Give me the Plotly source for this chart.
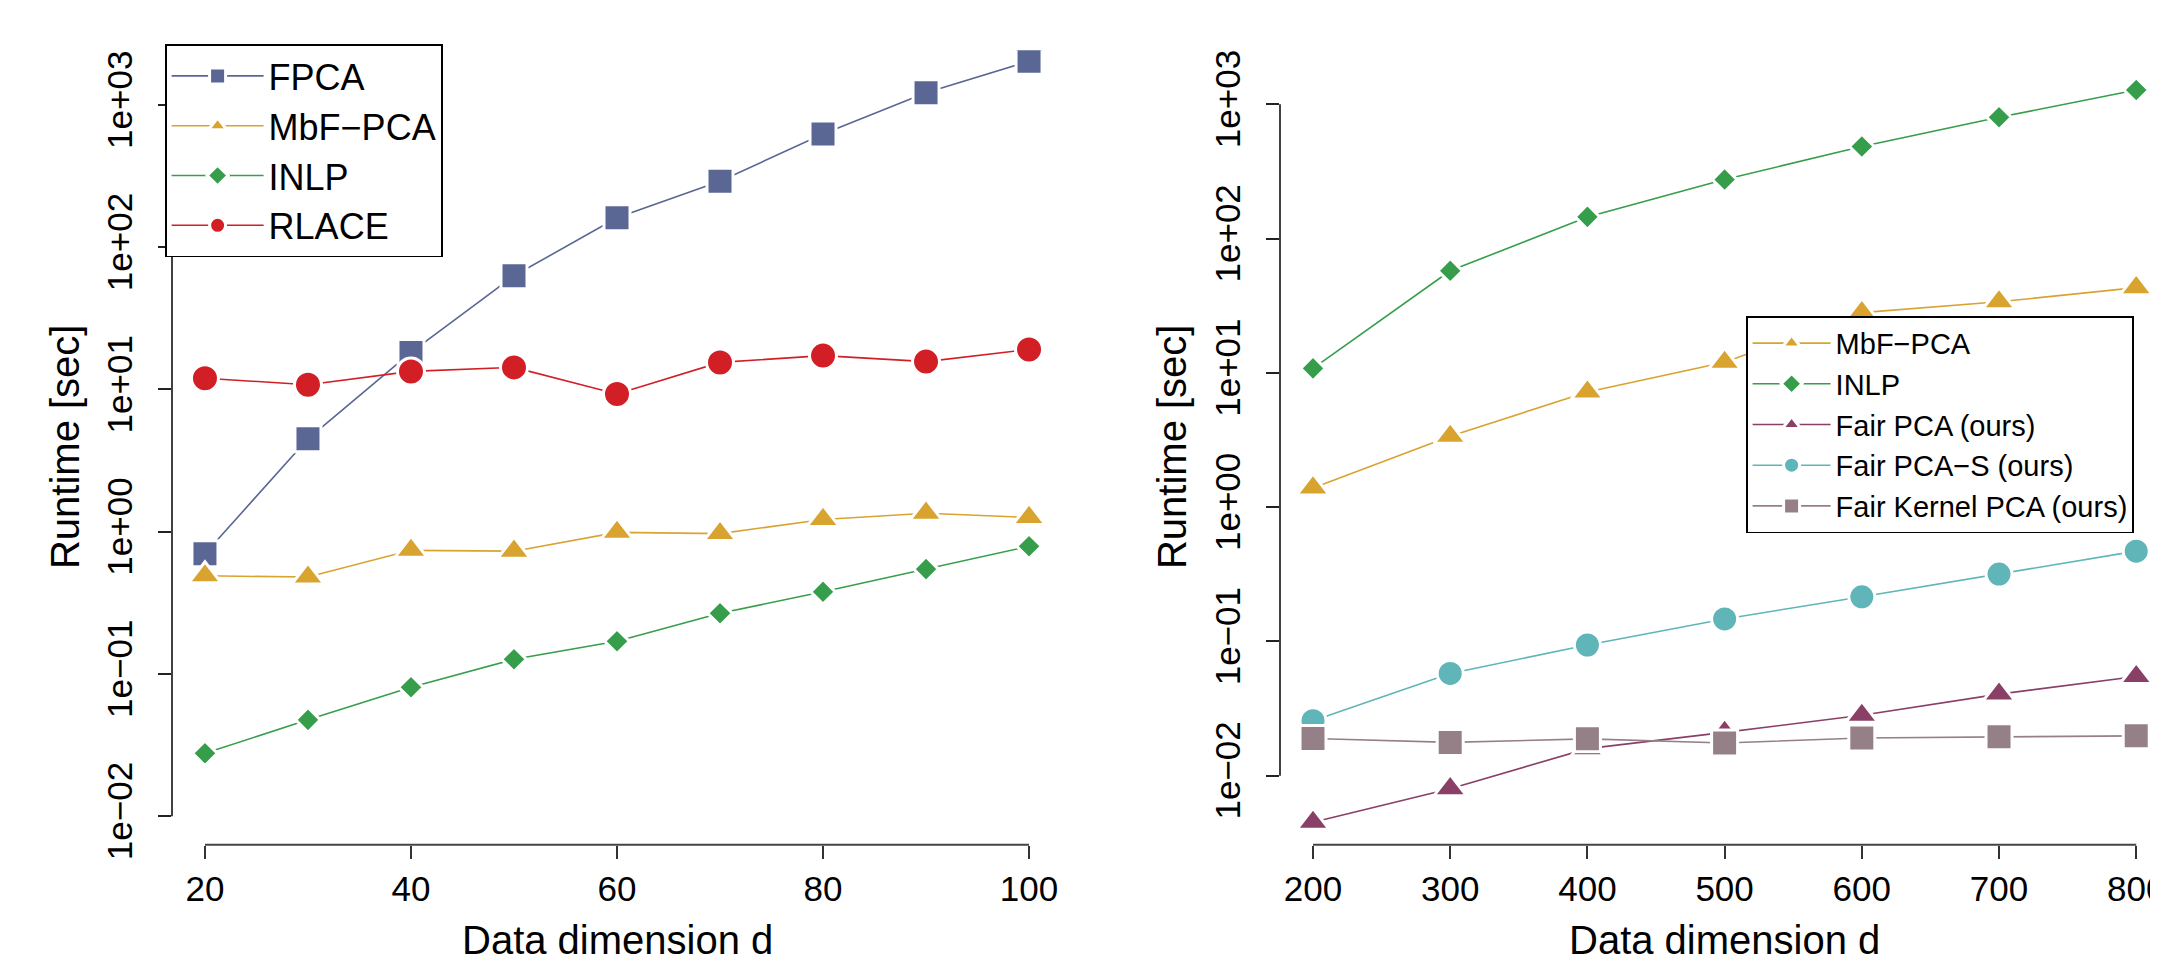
import math
import plotly.graph_objects as go

W, H = 2158, 965

# ---------------- data (left panel) ----------------
d_left = [20, 30, 40, 50, 60, 70, 80, 90, 100]
fpca_left = [0.70, 4.5, 18.2, 63, 161, 291, 625, 1220, 2030]
mbf_left = [0.49, 0.48, 0.74, 0.73, 0.99, 0.97, 1.22, 1.35, 1.26]
inlp_left = [0.0277, 0.0476, 0.0807, 0.127, 0.17, 0.267, 0.378, 0.546, 0.79]
rlace_left = [12.0, 10.8, 13.4, 14.3, 9.3, 15.5, 17.3, 15.7, 19.1]

# ---------------- data (right panel) ----------------
d_right = [200, 300, 400, 500, 600, 700, 800]
mbf_right = [1.39, 3.37, 7.2, 12.0, 28.1, 33.8, 43.1]
inlp_right = [10.8, 57.5, 145, 275, 485, 800, 1277]
fairpca_right = [0.0045, 0.0080, 0.0159, 0.021, 0.0282, 0.0405, 0.0548]
fairpcas_right = [0.0257, 0.0577, 0.094, 0.147, 0.215, 0.317, 0.47]
fairkpca_right = [0.0189, 0.0177, 0.0188, 0.0175, 0.0191, 0.0195, 0.0198]

# ---------------- tick labels ----------------
x_ticks_left = [20, 40, 60, 80, 100]
x_ticks_right = [200, 300, 400, 500, 600, 700, 800]
y_tickvals = [1e-2, 1e-1, 1e0, 1e1, 1e2, 1e3]
y_ticktext = ["1e\u221202", "1e\u221201", "1e+00", "1e+01", "1e+02", "1e+03"]

# ---------------- styles ----------------
C_FPCA = "#5A6794"
C_MBF = "#D9A330"
C_INLP = "#369E4B"
C_RLACE = "#D21F26"
C_FAIR = "#8A3F66"
C_FAIRS = "#5FB5B7"
C_FKPCA = "#968087"

FONT = "Liberation Sans, Arial, Helvetica, sans-serif"

# plot regions (pixel based layout)
L_X0, L_X1 = 164, 1054
R_X0, R_X1 = 1272, 2158
Y_TOP, Y_BOT = 43, 850
dom_y = [1 - Y_BOT / H, 1 - Y_TOP / H]
dom_xl = [L_X0 / W, L_X1 / W]
dom_xr = [R_X0 / W, R_X1 / W]
rng_xl = [16.8, 103.2]
rng_xr = [175.95, 821.7]
rng_yl = [-2.2007, 3.3841]
rng_yr = [-2.5147, 3.4018]

fig = go.Figure()


def add(name, x, y, color, symbol, size, xa, ya, legend):
    fig.add_trace(go.Scatter(
        x=x, y=y, name=name, mode="lines+markers", xaxis=xa, yaxis=ya,
        legend=legend,
        line=dict(color=color, width=1.6),
        marker=dict(symbol=symbol, size=size, color=color,
                    line=dict(color="white", width=3)),
    ))


add("FPCA", d_left, fpca_left, C_FPCA, "square", 26, "x", "y", "legend")
add("MbF\u2212PCA", d_left, mbf_left, C_MBF, "triangle-up", 28, "x", "y", "legend")
add("INLP", d_left, inlp_left, C_INLP, "diamond", 19, "x", "y", "legend")
add("RLACE", d_left, rlace_left, C_RLACE, "circle", 27, "x", "y", "legend")

add("MbF\u2212PCA", d_right, mbf_right, C_MBF, "triangle-up", 28, "x2", "y2", "legend2")
add("INLP", d_right, inlp_right, C_INLP, "diamond", 19, "x2", "y2", "legend2")
add("Fair PCA (ours)", d_right, fairpca_right, C_FAIR, "triangle-up", 28, "x2", "y2", "legend2")
add("Fair PCA\u2212S (ours)", d_right, fairpcas_right, C_FAIRS, "circle", 26, "x2", "y2", "legend2")
add("Fair Kernel PCA (ours)", d_right, fairkpca_right, C_FKPCA, "square", 26, "x2", "y2", "legend2")

xax = dict(showgrid=False, zeroline=False, showline=False, ticks="outside",
           ticklen=13, tickwidth=1.5, tickcolor="#333333",
           tickfont=dict(size=35, family=FONT, color="black"))
yax = dict(type="log", showgrid=False, zeroline=False, showline=False,
           ticks="outside", ticklen=13, tickwidth=1.5, tickcolor="#222222",
           tickvals=y_tickvals, ticktext=y_ticktext, tickangle=-90,
           ticklabelstandoff=12,
           tickfont=dict(size=35, family=FONT, color="black"))

legend_common = dict(xanchor="left", yanchor="top", bgcolor="white",
                     bordercolor="black", borderwidth=1.6, tracegroupgap=0)

fig.update_layout(
    width=W, height=H, margin=dict(l=0, r=0, t=0, b=0),
    paper_bgcolor="white", plot_bgcolor="white",
    font=dict(family=FONT, color="black"),
    xaxis=dict(**xax, domain=dom_xl, range=rng_xl, tickvals=x_ticks_left, anchor="y"),
    yaxis=dict(**yax, domain=dom_y, range=rng_yl, anchor="x"),
    xaxis2=dict(**xax, domain=dom_xr, range=rng_xr, tickvals=x_ticks_right, anchor="y2"),
    yaxis2=dict(**yax, domain=dom_y, range=rng_yr, anchor="x2"),
    legend=dict(**legend_common, x=157 / W, y=1 - 37 / H, itemwidth=92,
                font=dict(size=36, family=FONT, color="black")),
    legend2=dict(**legend_common, x=1738 / W, y=1 - 313 / H, itemwidth=78,
                 font=dict(size=29, family=FONT, color="black")),
    showlegend=True,
)


def xpaper(v, rng, dom):
    return dom[0] + (v - rng[0]) / (rng[1] - rng[0]) * (dom[1] - dom[0])


def ypaper_log(v, rng, dom):
    return dom[0] + (math.log10(v) - rng[0]) / (rng[1] - rng[0]) * (dom[1] - dom[0])


shapes = []
# y axis lines (span first..last tick, R style)
for rng, dom in [(rng_yl, dom_xl), (rng_yr, dom_xr)]:
    shapes.append(dict(type="line", xref="paper", yref="paper",
                       x0=dom[0], x1=dom[0],
                       y0=ypaper_log(y_tickvals[0], rng, dom_y),
                       y1=ypaper_log(y_tickvals[-1], rng, dom_y),
                       line=dict(color="#111111", width=1.6)))
# x axis lines
for ticks, rng, dom in [(x_ticks_left, rng_xl, dom_xl), (x_ticks_right, rng_xr, dom_xr)]:
    shapes.append(dict(type="line", xref="paper", yref="paper",
                       x0=xpaper(ticks[0], rng, dom), x1=xpaper(ticks[-1], rng, dom),
                       y0=dom_y[0], y1=dom_y[0],
                       line=dict(color="#444444", width=2)))
fig.update_layout(shapes=shapes)

title_font = dict(size=40, family=FONT, color="black")
annotations = [
    dict(text="Runtime [sec]", x=57 / W, y=1 - 446 / H, textangle=-90),
    dict(text="Runtime [sec]", x=1164 / W, y=1 - 446 / H, textangle=-90),
    dict(text="Data dimension d", x=609 / W, y=1 - 947 / H),
    dict(text="Data dimension d", x=1716 / W, y=1 - 947 / H),
]
for a in annotations:
    a.update(xref="paper", yref="paper", showarrow=False, xanchor="center",
             yanchor="middle", font=title_font)
fig.update_layout(annotations=annotations)

fig.write_html("out.html")
